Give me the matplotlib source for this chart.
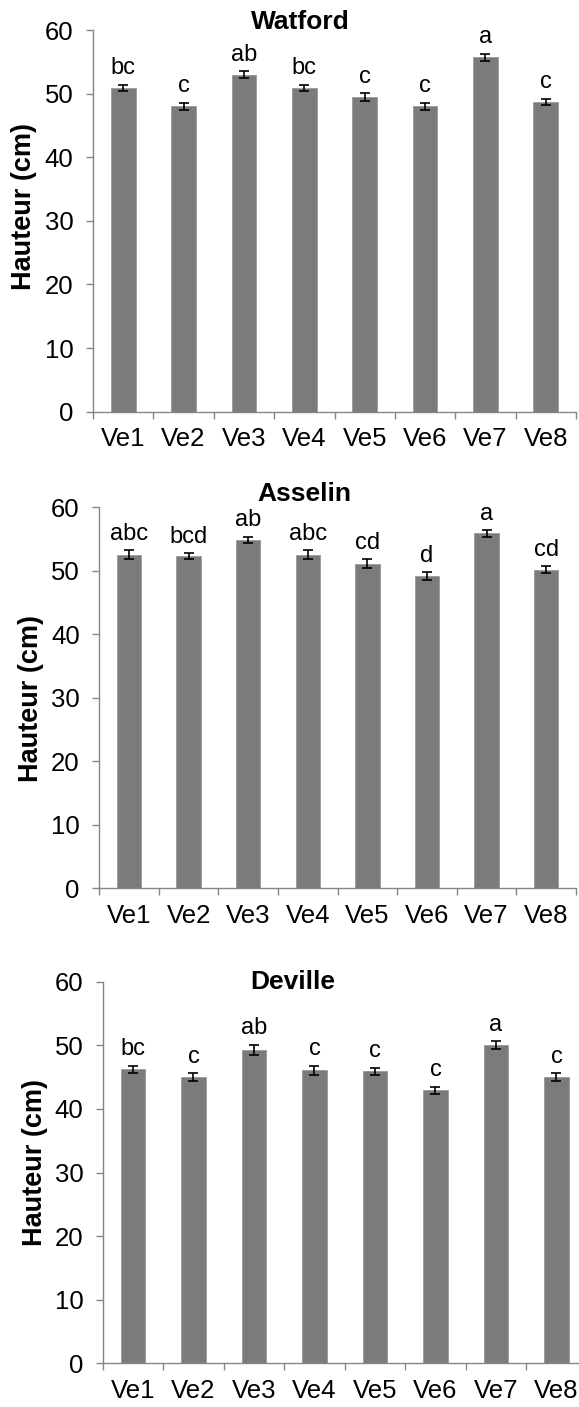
import matplotlib
matplotlib.use("Agg")
import matplotlib.pyplot as plt
import numpy as np

plt.rcParams['font.family'] = ['Liberation Sans', 'DejaVu Sans']

varieties = ['Ve1', 'Ve2', 'Ve3', 'Ve4', 'Ve5', 'Ve6', 'Ve7', 'Ve8']

watford_height = [50.9, 48.0, 53.0, 50.9, 49.5, 48.0, 55.7, 48.7]
watford_err = [0.5, 0.6, 0.5, 0.5, 0.6, 0.6, 0.6, 0.5]
watford_groups = ['bc', 'c', 'ab', 'bc', 'c', 'c', 'a', 'c']

asselin_height = [52.5, 52.3, 54.9, 52.5, 51.1, 49.2, 55.9, 50.2]
asselin_err = [0.7, 0.5, 0.5, 0.7, 0.7, 0.6, 0.5, 0.5]
asselin_groups = ['abc', 'bcd', 'ab', 'abc', 'cd', 'd', 'a', 'cd']

deville_height = [46.2, 45.0, 49.3, 46.1, 45.9, 42.9, 50.0, 45.0]
deville_err = [0.6, 0.6, 0.8, 0.7, 0.6, 0.6, 0.6, 0.6]
deville_groups = ['bc', 'c', 'ab', 'c', 'c', 'c', 'a', 'c']

W, H = 579, 1407
fig = plt.figure(figsize=(W / 100, H / 100), dpi=100)

# panel boxes in pixels: left, right, y of 60, y of 0
panels = [
    ('Watford', watford_height, watford_err, watford_groups,
     (93, 576, 30, 411.7), (300, 22), (24, 206)),
    ('Asselin', asselin_height, asselin_err, asselin_groups,
     (99.3, 576, 507.3, 888.3), (304, 494), (31, 699)),
    ('Deville', deville_height, deville_err, deville_groups,
     (102.7, 586.7, 981.7, 1363.3), (293, 982), (35, 1162)),
]

axis_gray = '#868686'
bar_gray = '#7b7b7b'

for title, height, err, groups, box, title_xy, ylab_xy in panels:
    x0, x1, ytop, ybot = box
    ax = fig.add_axes([x0 / W, 1 - ybot / H, (x1 - x0) / W, (ybot - ytop) / H])
    pos = np.arange(len(varieties))
    ax.bar(pos, height, width=0.41, color=bar_gray, edgecolor='#9a9a9a',
           linewidth=0.6, zorder=2)
    ax.errorbar(pos, height, yerr=err, fmt='none', ecolor='black',
                elinewidth=1.2, capsize=3.5, capthick=1.2, zorder=3)
    for p, h, e, g in zip(pos, height, err, groups):
        ax.annotate(g, (p, h + e), xytext=(0, 7.5), textcoords='offset points',
                    ha='center', va='baseline', fontsize=17)

    ax.set_xlim(-0.5, len(varieties) - 0.5)
    ax.set_ylim(0, 60)
    ax.set_yticks(np.arange(0, 61, 10))
    ax.tick_params(axis='y', length=5, width=1, color=axis_gray, pad=9,
                   labelsize=18.5)
    ax.set_xticks(np.arange(-0.5, len(varieties), 1.0))
    ax.set_xticklabels([])
    ax.tick_params(axis='x', which='major', length=5, width=1, color=axis_gray)
    ax.set_xticks(pos, minor=True)
    ax.set_xticklabels(varieties, minor=True)
    ax.tick_params(axis='x', which='minor', length=0, pad=11, labelsize=18.5)

    for s in ['top', 'right']:
        ax.spines[s].set_visible(False)
    for s in ['left', 'bottom']:
        ax.spines[s].set_color(axis_gray)
        ax.spines[s].set_linewidth(1)

    fig.text(title_xy[0] / W, 1 - title_xy[1] / H, title, ha='center',
             va='center', fontsize=19, fontweight='bold')
    fig.text(ylab_xy[0] / W, 1 - ylab_xy[1] / H, 'Hauteur (cm)',
             rotation=90, ha='center', va='center', fontsize=19.5,
             fontweight='bold')

fig.savefig('out.png', dpi=100)
